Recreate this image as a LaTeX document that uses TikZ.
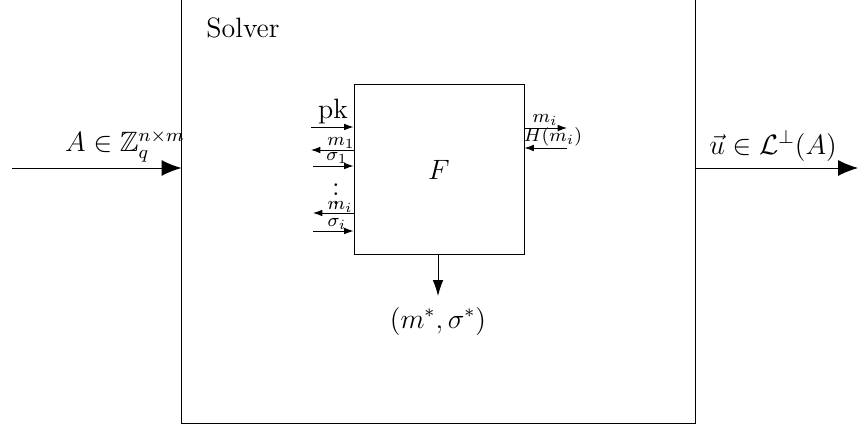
\documentclass[tikz,border=0pt,12pt]{standalone}
\usepackage{amsmath}
\usepackage{amsfonts}
\usepackage{amssymb}
\usepackage{tikz}
\usetikzlibrary{positioning, arrows.meta}

\begin{document}
\begin{tikzpicture}[x=0.01508cm, y=-0.01508cm,
    bigarrow/.style={-{Latex[length=0.3cm, width=0.24cm]}},
    downarrow/.style={-{Latex[length=0.24cm, width=0.16cm]}},
    smallarrow/.style={-{Latex[length=0.14cm, width=0.1cm]}},
    tinylabel/.style={font=\scriptsize, inner sep=0.5pt}]
    \useasboundingbox (0,0) rectangle (862,427);

    % Solver and F
    \node (solver) [draw, minimum width=7.736cm, minimum height=6.545cm] at (438.5,206) {};
    \node (solvername) at (243,28) {Solver};
    \node (F) [draw, minimum width=2.564cm, minimum height=2.549cm] at (439,169.5) {\(F\)};

    % Input and output
    \coordinate (in) at (12,168);
    \coordinate (out) at (858,168);
    \draw[bigarrow] (in) -- (in -| solver.west);
    \draw[bigarrow] (out -| solver.east) -- (out);
    \node (Alabel) at (125,146) {\(A \in \mathbb{Z}_q^{n\times m}\)};
    \node (ulabel) at (773,146) {\(\vec{u} \in \mathcal{L}^{\perp}(A)\)};

    % Forgery
    \coordinate (forge) at (438,296);
    \draw[downarrow] (forge |- F.south) -- (forge);
    \node (forgery) [below=0.02cm of forge] {\((m^*, \sigma^*)\)};

    % Queries on the left
    \coordinate (pk) at (311,127);
    \coordinate (m1) at (311,150);
    \coordinate (s1) at (313,166);
    \coordinate (mi) at (313,213);
    \coordinate (si) at (313,231);
    \draw[smallarrow] (pk) -- (pk -| F.west);
    \draw[smallarrow] (m1 -| F.west) -- (m1);
    \draw[smallarrow] (s1) -- (s1 -| F.west);
    \draw[smallarrow] (mi -| F.west) -- (mi);
    \draw[smallarrow] (si) -- (si -| F.west);
    \node (pklabel) at (333,112) {pk};
    \node (m1label) [tinylabel] at (341,143) {\(m_1\)};
    \node (s1label) [tinylabel] at (337,158) {\(\sigma_1\)};
    \node (dots) [inner sep=0pt] at (336,187) {\(\vdots\)};
    \node (milabel) [tinylabel] at (340,207) {\(m_i\)};
    \node (silabel) [tinylabel] at (337,224) {\(\sigma_i\)};

    % Hash queries on the right
    \coordinate (hq) at (567,128);
    \coordinate (ha) at (567,148);
    \draw[smallarrow] (hq -| F.east) -- (hq);
    \draw[smallarrow] (ha) -- (ha -| F.east);
    \node (hqlabel) [tinylabel] at (545,120) {\(m_i\)};
    \node (halabel) [tinylabel] at (553,137) {\(H(m_i)\)};
\end{tikzpicture}
\end{document}
